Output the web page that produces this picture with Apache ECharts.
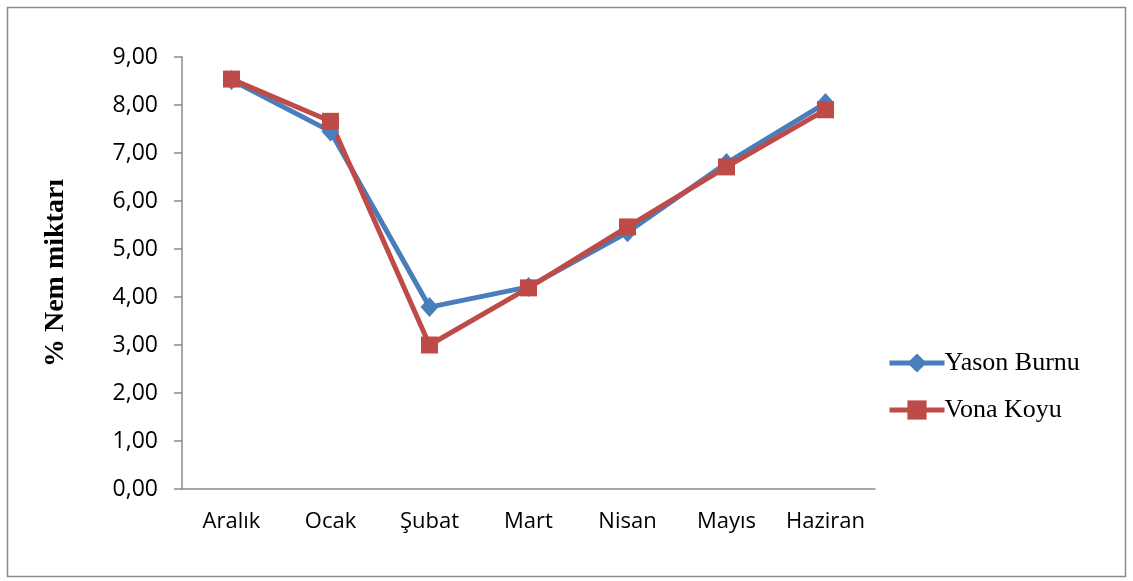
<!DOCTYPE html>
<html>
<head>
<meta charset="utf-8">
<script src="https://cdn.jsdelivr.net/npm/echarts@6/dist/echarts.min.js"></script>
<style>html,body{margin:0;padding:0;background:#fff;}#c{width:1133px;height:581px;}</style>
</head>
<body>
<div id="c"></div>
<script>
const categories = ['Aralık', 'Ocak', 'Şubat', 'Mart', 'Nisan', 'Mayıs', 'Haziran'];
const yasonBurnu = [8.52, 7.45, 3.79, 4.21, 5.35, 6.79, 8.04];
const vonaKoyu = [8.54, 7.66, 3.00, 4.19, 5.46, 6.71, 7.90];
const seriesNames = ['Yason Burnu', 'Vona Koyu'];
const yTitle = '% Nem miktarı';

const chart = echarts.init(document.getElementById('c'));
chart.setOption({
  animation: false,
  backgroundColor: '#fff',
  graphic: [{
    type: 'rect',
    shape: { x: 7.5, y: 7.5, width: 1118, height: 569 },
    style: { fill: 'none', stroke: '#8c8c8c', lineWidth: 1.5 },
    silent: true
  }],
  grid: { left: 182, right: 258, top: 57, bottom: 92 },
  legend: {
    orient: 'vertical',
    left: 882,
    top: 345,
    itemWidth: 55,
    itemHeight: 24,
    itemGap: 21,
    lineStyle: { width: 5 },
    textStyle: { fontFamily: 'Liberation Serif', fontSize: 26, color: '#000', lineHeight: 26, padding: [0, 0, 0, -5] },
    data: seriesNames
  },
  xAxis: {
    type: 'category',
    data: categories,
    boundaryGap: true,
    axisLine: { lineStyle: { color: '#8a8a8a', width: 1.5 } },
    axisTick: { show: false },
    axisLabel: { interval: 0, margin: 22, fontFamily: 'Open Sans', fontSize: 22, color: '#000' }
  },
  yAxis: {
    type: 'value',
    min: 0,
    max: 9,
    interval: 1,
    name: yTitle,
    nameLocation: 'middle',
    nameRotate: 90,
    nameGap: 112,
    nameTextStyle: { fontFamily: 'Liberation Serif', fontWeight: 'bold', fontSize: 28, color: '#000' },
    axisLine: { show: true, lineStyle: { color: '#8a8a8a', width: 1.5 } },
    axisTick: { show: true, length: 8, inside: false, lineStyle: { color: '#8a8a8a', width: 1.5 } },
    splitLine: { show: false },
    axisLabel: {
      margin: 24,
      fontFamily: 'Open Sans',
      fontSize: 23,
      color: '#000',
      formatter: v => v.toFixed(2).replace('.', ',')
    }
  },
  series: [
    {
      name: seriesNames[0],
      type: 'line',
      data: yasonBurnu,
      symbol: 'diamond',
      symbolSize: [18, 20],
      lineStyle: { color: '#4A7EBB', width: 5 },
      itemStyle: { color: '#4A7EBB' }
    },
    {
      name: seriesNames[1],
      type: 'line',
      data: vonaKoyu,
      symbol: 'rect',
      symbolSize: 17,
      lineStyle: { color: '#BE4B48', width: 5 },
      itemStyle: { color: '#BE4B48' }
    }
  ]
});
</script>
</body>
</html>
